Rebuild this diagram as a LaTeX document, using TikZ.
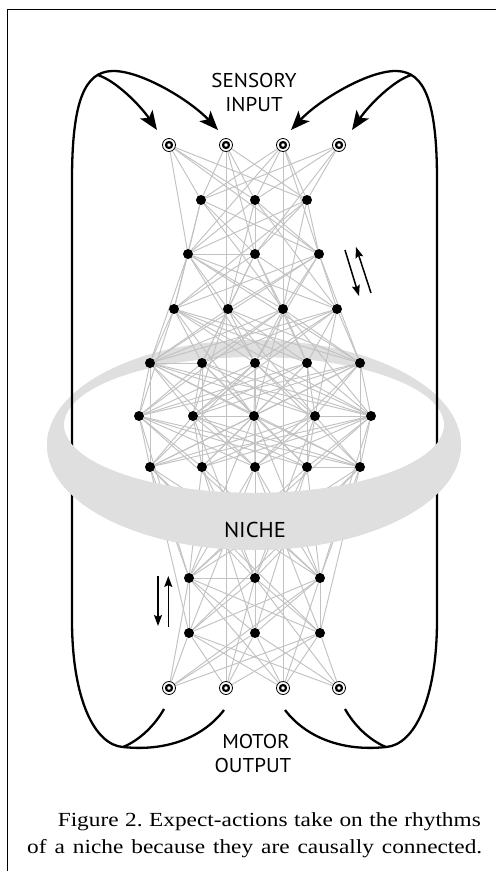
\documentclass[tikz,border=0pt]{standalone}
\usepackage{fontspec}
\setmainfont{Liberation Serif}
\newfontfamily\labfont[FakeStretch=1.05]{PT Sans}
\newfontfamily\capfont[FakeStretch=1.165]{Liberation Serif}
\usetikzlibrary{arrows.meta}
\pgfdeclarelayer{ringback}
\pgfdeclarelayer{edges}
\pgfdeclarelayer{front}
\pgfsetlayers{ringback,edges,main,front}
\definecolor{ringgray}{gray}{0.875}
\definecolor{edgegray}{gray}{0.76}
\tikzset{
  dot/.style={circle, fill=black, minimum size=10pt, inner sep=0pt},
  io/.style={circle, draw=black, line width=0.8pt, fill=white, minimum size=13pt, inner sep=0pt,
    path picture={\draw[line width=2.2pt] (path picture bounding box.center) circle (3pt);}},
  netedge/.style={draw=edgegray, line width=0.95pt},
  loopline/.style={line width=2.3pt, draw=black},
  bigtip/.style={-{Stealth[length=19pt, width=15pt, inset=4.5pt]}},
  smalltip/.style={line width=1.5pt, -{Stealth[length=11pt, width=8pt, inset=2pt]}},
  lbl/.style={font=\labfont\fontsize{20}{24}\selectfont, inner sep=0pt, anchor=base},
  captext/.style={font=\capfont\fontsize{20}{27}\selectfont\frenchspacing, inner sep=0pt},
}
\begin{document}
\begin{tikzpicture}[x=1pt,y=-1pt]
\useasboundingbox (0,0) rectangle (496,871);
% frame
\draw[line width=1.2pt] (7.5,871) -- (7.5,9.5) -- (496,9.5);

% ring (background part)
\begin{pgfonlayer}{ringback}
\fill[ringgray, even odd rule] (254,445) ellipse [x radius=207pt, y radius=105pt]
  (254,425) ellipse [x radius=190pt, y radius=68pt];
\end{pgfonlayer}

% nodes
\foreach \x [count=\i] in {169,226,283,339} \node[io] (a\i) at (\x,145) {};
\foreach \x [count=\i] in {201,255,307} \node[dot] (b\i) at (\x,200) {};
\foreach \x [count=\i] in {188,255,319} \node[dot] (c\i) at (\x,254) {};
\foreach \x [count=\i] in {174,228,283,337} \node[dot] (d\i) at (\x,309) {};
\foreach \x [count=\i] in {150,202,255,307,360} \node[dot] (e\i) at (\x,363) {};
\foreach \x [count=\i] in {139,193,254,315,371} \node[dot] (f\i) at (\x,416) {};
\foreach \x [count=\i] in {150,202,255,307,360} \node[dot] (g\i) at (\x,467) {};
\foreach \x [count=\i] in {189,255,320} \node[dot] (h\i) at (\x,578) {};
\foreach \x [count=\i] in {189,255,320} \node[dot] (i\i) at (\x,633) {};
\foreach \x [count=\i] in {169,226,283,339} \node[io] (o\i) at (\x,688) {};

% network edges
\begin{pgfonlayer}{edges}
% neighbouring layers
\foreach \u/\nu/\v/\nv in {a/4/b/3, b/3/c/3, c/3/d/4, d/4/e/5, e/5/f/5, f/5/g/5, g/5/h/3, h/3/i/3, i/3/o/4}
  \foreach \p in {1,...,\nu} \foreach \q in {1,...,\nv} \draw[netedge] (\u\p) -- (\v\q);
% skipping one layer (every other pair)
\foreach \u/\nu/\v/\nv in {a/4/c/3, b/3/d/4, c/3/e/5, d/4/f/5, e/5/g/5, f/5/h/3, g/5/i/3, h/3/o/4}
  \foreach \p in {1,...,\nu} \foreach \q in {1,...,\nv} {
    \pgfmathtruncatemacro{\parity}{mod(\p+\q,2)}
    \ifnum\parity=0 \draw[netedge] (\u\p) -- (\v\q); \fi
  }
\foreach \s/\t in {c1/c2, e1/e2, f2/f3, f4/f5, g4/g5, h1/h2, a2/o2, a3/o3}
  \draw[netedge] (\s) -- (\t);
\end{pgfonlayer}

% loop end points
\coordinate (tl1) at (157,130);
\coordinate (tl2) at (218,130);
\coordinate (tl3) at (291,130);
\coordinate (tl4) at (352,130);
\coordinate (bl1) at (164,709);
\coordinate (bl2) at (224,710);
\coordinate (bl3) at (285,710);
\coordinate (bl4) at (345,709);
\coordinate (jl) at (97.5,75);
\coordinate (jr) at (411.5,75);
\coordinate (kl) at (123,747);
\coordinate (kr) at (386,747);

% left loop
\draw[loopline, bigtip] (bl2) .. controls (205,735) and (170,752) .. (kl)
  .. controls (95,745) and (72,700) .. (72,620) -- (72,180)
  .. controls (72,100) and (85,72) .. (112,71)
  .. controls (140,70) and (190,100) .. (tl2);
\draw[loopline, bigtip] (jl) .. controls (115,80) and (140,105) .. (tl1);
\draw[loopline] (kl) .. controls (140,740) and (155,725) .. (bl1);
% right loop
\draw[loopline, bigtip] (bl3) .. controls (304,735) and (339,752) .. (kr)
  .. controls (414,745) and (437,700) .. (437,620) -- (437,180)
  .. controls (437,100) and (424,72) .. (397,71)
  .. controls (369,70) and (319,100) .. (tl3);
\draw[loopline, bigtip] (jr) .. controls (394,80) and (369,105) .. (tl4);
\draw[loopline] (kr) .. controls (369,740) and (354,725) .. (bl4);

% small arrow pairs
\coordinate (ra1) at (345,250); \coordinate (ra2) at (359,296);
\coordinate (rb1) at (371,293); \coordinate (rb2) at (356,247);
\draw[smalltip] (ra1) -- (ra2);
\draw[smalltip] (rb1) -- (rb2);
\coordinate (la1) at (158,576); \coordinate (la2) at (158,626);
\coordinate (lb1) at (168.3,626.5); \coordinate (lb2) at (168.3,576);
\draw[smalltip] (la1) -- (la2);
\draw[smalltip] (lb1) -- (lb2);

% labels
\node[lbl] (s1) at (254,87) {SENSORY};
\node[lbl] (s2) at (254,111) {INPUT};
\node[lbl] (m1) at (256,748) {MOTOR};
\node[lbl] (m2) at (253,772) {OUTPUT};

% front part of ring
\begin{pgfonlayer}{front}
\begin{scope}
\clip (0,430) rectangle (496,600);
\fill[ringgray, even odd rule] (254,445) ellipse [x radius=207pt, y radius=105pt]
  (254,425) ellipse [x radius=190pt, y radius=68pt];
\end{scope}
\node[lbl, font=\labfont\fontsize{21.5}{25}\selectfont] (niche) at (255,537) {NICHE};
\end{pgfonlayer}

% caption
\node[captext, anchor=base east] (cap1) at (481,826.7) {\makebox[423pt][s]{Figure 2. Expect-actions take on the rhythms}};
\node[captext, anchor=base west] (cap2) at (27,853.5) {\makebox[455pt][s]{of a niche because they are causally connected.}};
\end{tikzpicture}
\end{document}
